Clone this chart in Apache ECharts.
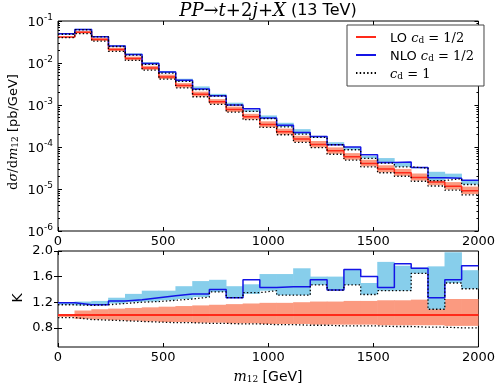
<!DOCTYPE html>
<html><head><meta charset="utf-8">
<script src="https://cdn.jsdelivr.net/npm/echarts@6/dist/echarts.min.js"></script>
<style>html,body{margin:0;padding:0;background:#fff}#c{width:498px;height:384px}</style>
</head><body><div id="c"></div>
<script>
// ---- data ----
const binEdges = [0,80,160,240,320,400,480,560,640,720,800,880,960,1040,1120,1200,1280,1360,1440,1520,1600,1680,1760,1840,1920,2000];

// top panel: dsigma/dm12 [pb/GeV]
const loCentral = [0.0417,0.0538,0.0361,0.0209,0.01277,0.00764,0.00467,0.00291,0.00181,0.00119,0.000783,0.000522,0.000344,0.000230,0.000154,0.000115,0.0000810,0.0000585,0.0000407,0.0000298,0.0000245,0.0000189,0.0000146,0.0000117,0.0000091];
const loUpper   = [0.0421,0.0576,0.0393,0.0230,0.01417,0.00856,0.00528,0.00332,0.00208,0.00138,0.000916,0.000616,0.000409,0.000274,0.000185,0.000139,0.0000980,0.0000714,0.0000497,0.0000367,0.0000301,0.0000234,0.0000181,0.0000146,0.0000114];
const loLower   = [0.0404,0.0506,0.0336,0.0192,0.01162,0.00688,0.00416,0.00259,0.00159,0.00105,0.000681,0.000454,0.000296,0.000198,0.000132,0.0000978,0.0000689,0.0000497,0.0000346,0.0000250,0.0000206,0.0000159,0.0000123,0.00000971,0.00000755];
const loCd1     = [0.0400,0.0500,0.0332,0.0190,0.01149,0.00680,0.00411,0.00256,0.00157,0.00104,0.000673,0.000449,0.000292,0.000196,0.000129,0.0000966,0.0000672,0.0000486,0.0000338,0.0000244,0.0000201,0.0000153,0.0000118,0.00000936,0.00000728];
const nloCentral= [0.0496,0.0624,0.0419,0.0255,0.01583,0.00970,0.00607,0.00387,0.00241,0.00167,0.000994,0.000809,0.000492,0.000331,0.000222,0.000178,0.000113,0.000100,0.0000651,0.0000426,0.0000441,0.0000327,0.0000185,0.0000181,0.0000161];
const nloUpper  = [0.0500,0.0651,0.0440,0.0265,0.01698,0.01054,0.00644,0.00422,0.00277,0.00184,0.001135,0.000773,0.000564,0.000377,0.000266,0.000184,0.000130,0.000100,0.0000611,0.0000545,0.0000434,0.0000329,0.0000257,0.0000232,0.0000155];
const nloLower  = [0.0484,0.0619,0.0419,0.0247,0.01532,0.00924,0.00574,0.00364,0.00232,0.00162,0.000994,0.000694,0.000475,0.000301,0.000202,0.000169,0.000113,0.0000860,0.0000537,0.0000411,0.0000338,0.0000312,0.0000159,0.0000176,0.0000128];
const nloCd1    = [0.0484,0.0619,0.0419,0.0247,0.01532,0.00924,0.00574,0.00364,0.00232,0.00162,0.000994,0.000705,0.000475,0.000301,0.000202,0.000169,0.000113,0.0000860,0.0000537,0.0000411,0.0000338,0.0000312,0.0000159,0.0000176,0.0000128];

// bottom panel: K (ratio to LO, c_d = 1/2)
const kLo       = [1,1,1,1,1,1,1,1,1,1,1,1,1,1,1,1,1,1,1,1,1,1,1,1,1];
const kLoUpper  = [1.01,1.07,1.09,1.10,1.11,1.12,1.13,1.14,1.15,1.16,1.17,1.18,1.19,1.19,1.20,1.21,1.21,1.22,1.22,1.23,1.23,1.24,1.24,1.25,1.25];
const kLoLower  = [0.97,0.94,0.93,0.92,0.91,0.90,0.89,0.89,0.88,0.88,0.87,0.87,0.86,0.86,0.86,0.85,0.85,0.85,0.85,0.84,0.84,0.84,0.84,0.83,0.83];
const kLoCd1    = [0.96,0.93,0.92,0.91,0.90,0.89,0.88,0.88,0.87,0.87,0.86,0.86,0.85,0.85,0.84,0.84,0.83,0.83,0.83,0.82,0.82,0.81,0.81,0.80,0.80];
const kNlo      = [1.19,1.16,1.16,1.22,1.24,1.27,1.30,1.33,1.33,1.40,1.27,1.55,1.43,1.44,1.44,1.55,1.39,1.71,1.60,1.43,1.80,1.73,1.27,1.55,1.77];
const kNloUpper = [1.20,1.21,1.22,1.27,1.33,1.38,1.38,1.45,1.53,1.55,1.45,1.48,1.64,1.64,1.73,1.60,1.60,1.71,1.50,1.83,1.77,1.74,1.76,1.98,1.70];
const kNloLower = [1.16,1.15,1.16,1.18,1.20,1.21,1.23,1.25,1.28,1.36,1.27,1.33,1.38,1.31,1.31,1.47,1.39,1.47,1.32,1.38,1.38,1.65,1.09,1.50,1.41];
const kNloCd1   = [1.16,1.15,1.16,1.18,1.20,1.21,1.23,1.25,1.28,1.36,1.27,1.35,1.38,1.31,1.31,1.47,1.39,1.47,1.32,1.38,1.38,1.65,1.09,1.50,1.41];

// ticks
const xTicks = [0,500,1000,1500,2000];
const logMajor = [1e-6,1e-5,1e-4,1e-3,1e-2,1e-1];
const logMinorMultipliers = [2,3,4,5,6,7,8,9];
const kTicks = [0.8,1.2,1.6,2.0];

// ---- helpers ----
const logMinor = [];
logMajor.slice(0,-1).forEach(d => logMinorMultipliers.forEach(m => logMinor.push(+(m*d).toPrecision(3))));

function stepData(vals){
  const d = vals.map((v,i)=>[binEdges[i], v]);
  d.push([binEdges[vals.length], vals[vals.length-1]]);
  return d;
}
function bandData(lo, hi){ return lo.map((v,i)=>[binEdges[i], binEdges[i+1], v, hi[i]]); }
function bandRender(color){
  return function(params, api){
    const p0 = api.coord([api.value(0), api.value(3)]);
    const p1 = api.coord([api.value(1), api.value(2)]);
    const cs = params.coordSys;
    const r = echarts.graphic.clipRectByRect(
      {x:p0[0]-0.3, y:p0[1], width:p1[0]-p0[0]+0.6, height:p1[1]-p0[1]},
      {x:cs.x, y:cs.y, width:cs.width, height:cs.height});
    return r && {type:'rect', shape:r, style:{fill:color}};
  };
}

const RED = '#ff2a1a', BLUE = '#1414e6', SALMON = '#fb9a80', SKY = '#87ceeb';
const MATH = 'DejaVu Serif', SANS = 'DejaVu Sans';
const DOTS = 'path://M0,0h1.4v1h-1.4z M3.6,0h1.4v1h-1.4z M7.2,0h1.4v1h-1.4z M10.8,0h1.4v1h-1.4z M14.4,0h1.4v1h-1.4z M18,0h1.4v1h-1.4z';

function xAx(grid, pos, showLabel){
  return {type:'value', gridIndex:grid, position:pos, min:0, max:2000, interval:500,
    axisLine:{show:false},
    axisTick:{show:true, inside:true, length:4, lineStyle:{color:'#000'}},
    axisLabel:{show:showLabel, color:'#000', fontSize:13, fontFamily:SANS, margin:4, customValues:xTicks,
      formatter: v => String(v)},
    splitLine:{show:false}};
}
function yLog(pos, major, showLabel){
  return {type:'log', logBase:10, gridIndex:0, position:pos, min:1e-6, max:1e-1,
    axisLine:{show:false},
    axisTick:{show:true, inside:true, length: major?4:2, customValues: major?logMajor:logMinor, lineStyle:{color:'#000'}},
    axisLabel:{show:showLabel, customValues:logMajor, margin:5,
      formatter: v => '{b|10}{s|' + Math.round(Math.log10(v)) + '}',
      rich:{ b:{fontSize:13, fontFamily:SANS, color:'#000', lineHeight:16, verticalAlign:'bottom'},
             s:{fontSize:9, fontFamily:SANS, color:'#000', lineHeight:10, verticalAlign:'top'} }},
    splitLine:{show:false}};
}
function yK(pos, showLabel){
  return {type:'value', gridIndex:1, position:pos, min:0.5, max:2.0,
    axisLine:{show:false},
    axisTick:{show:true, inside:true, length:4, customValues:kTicks, lineStyle:{color:'#000'}},
    axisLabel:{show:showLabel, customValues:kTicks, color:'#000', fontSize:13, fontFamily:SANS, margin:5,
      formatter: v => v.toFixed(1)},
    splitLine:{show:false}};
}

function stepLine(name, vals, xi, yi, color, width, dotted, z){
  return {type:'line', name:name, xAxisIndex:xi, yAxisIndex:yi, step:'end', data:stepData(vals),
    symbol:'none', showSymbol:false, silent:true, animation:false, z:z,
    lineStyle:{color:color, width:width, type: dotted ? [1.4,2.2] : 'solid'},
    itemStyle:{color:color}};
}
function band(vLo, vHi, xi, yi, color, z){
  return {type:'custom', xAxisIndex:xi, yAxisIndex:yi, data:bandData(vLo, vHi),
    renderItem:bandRender(color), encode:{x:[0,1], y:[2,3]}, silent:true, animation:false, z:z};
}

const option = {
  animation:false,
  backgroundColor:'#fff',
  grid:[
    {left:58, top:21, width:421, height:210, show:true, borderColor:'#000', borderWidth:1, backgroundColor:'rgba(0,0,0,0)'},
    {left:58, top:251, width:421, height:96, show:true, borderColor:'#000', borderWidth:1, backgroundColor:'rgba(0,0,0,0)'}
  ],
  xAxis:[ xAx(0,'bottom',true), xAx(0,'top',false), xAx(1,'bottom',true), xAx(1,'top',false) ],
  yAxis:[ yLog('left',true,true), yLog('left',false,false), yLog('right',true,false), yLog('right',false,false),
          yK('left',true), yK('right',false) ],
  legend:{
    left:347, top:25, orient:'vertical', itemWidth:20, itemHeight:2, itemGap:5, symbolKeepAspect:false,
    padding:[7,10,5,9], borderColor:'#444', borderWidth:1, backgroundColor:'#fff',
    data:[{name:'LO', icon:'rect'},{name:'NLO', icon:'rect'},{name:'cd1', icon:DOTS}],
    formatter: n => n==='LO' ? '{r|LO }{i|c}{sub|d}{m| = 1/2}' : n==='NLO' ? '{r|NLO }{i|c}{sub|d}{m| = 1/2}' : '{i|c}{sub|d}{m| = 1}',
    textStyle:{padding:[0,0,0,9], rich:{
      r:{fontSize:13, fontFamily:SANS, color:'#000', lineHeight:16, verticalAlign:'bottom'},
      i:{fontSize:13, fontFamily:MATH, fontStyle:'italic', color:'#000', lineHeight:16, verticalAlign:'bottom'},
      sub:{fontSize:9, fontFamily:MATH, color:'#000', lineHeight:13, verticalAlign:'bottom'},
      m:{fontSize:13, fontFamily:MATH, color:'#000', lineHeight:16, verticalAlign:'bottom'}
    }}
  },
  graphic:[
    {type:'text', x:268, y:11, silent:true, style:{
      text:'{i|PP}{n|→}{i|t\u0305}{n|+2}{i|j}{n|+}{i|X}{s| (13 TeV)}', align:'center', verticalAlign:'middle',
      rich:{ i:{fontSize:18, fontFamily:MATH, fontStyle:'italic', fill:'#000'},
             n:{fontSize:18, fontFamily:MATH, fill:'#000'},
             s:{fontSize:16, fontFamily:SANS, fill:'#000'} }}},
    {type:'text', x:12, y:132, rotation:Math.PI/2, silent:true, style:{
      text:'{m|d}{i|σ}{m|/d}{i|m}{sub|12}{s| [pb/GeV]}', align:'center', verticalAlign:'middle',
      rich:{ i:{fontSize:13, fontFamily:MATH, fontStyle:'italic', fill:'#000', lineHeight:16, verticalAlign:'bottom'},
             m:{fontSize:13, fontFamily:MATH, fill:'#000', lineHeight:16, verticalAlign:'bottom'},
             sub:{fontSize:9, fontFamily:MATH, fill:'#000', lineHeight:12, verticalAlign:'bottom'},
             s:{fontSize:13, fontFamily:SANS, fill:'#000', lineHeight:16, verticalAlign:'bottom'} }}},
    {type:'text', x:18, y:298, rotation:Math.PI/2, silent:true, style:{
      text:'K', align:'center', verticalAlign:'middle', fontSize:14, fontFamily:SANS, fill:'#000'}},
    {type:'text', x:268, y:376, silent:true, style:{
      text:'{i|m}{sub|12}{s| [GeV]}', align:'center', verticalAlign:'middle',
      rich:{ i:{fontSize:14, fontFamily:MATH, fontStyle:'italic', fill:'#000', lineHeight:16, verticalAlign:'bottom'},
             sub:{fontSize:9, fontFamily:MATH, fill:'#000', lineHeight:12, verticalAlign:'bottom'},
             s:{fontSize:14, fontFamily:SANS, fill:'#000', lineHeight:16, verticalAlign:'bottom'} }}}
  ],
  series:[
    band(loLower, loUpper, 0, 0, SALMON, 1),
    band(nloLower, nloUpper, 0, 0, SKY, 2),
    stepLine('LO', loCentral, 0, 0, RED, 1.5, false, 4),
    stepLine('NLO', nloCentral, 0, 0, BLUE, 1.5, false, 5),
    stepLine('cd1', loCd1, 0, 0, '#000', 1.3, true, 6),
    stepLine('cd1', nloCd1, 0, 0, '#000', 1.3, true, 6),

    band(kLoLower, kLoUpper, 2, 4, SALMON, 1),
    band(kNloLower, kNloUpper, 2, 4, SKY, 2),
    stepLine('LO', kLo, 2, 4, RED, 2, false, 4),
    stepLine('NLO', kNlo, 2, 4, BLUE, 1.5, false, 5),
    stepLine('cd1', kLoCd1, 2, 4, '#000', 1.3, true, 6),
    stepLine('cd1', kNloCd1, 2, 4, '#000', 1.3, true, 6)
  ]
};
const chart = echarts.init(document.getElementById('c'), null, {renderer:'canvas', width:498, height:384});
chart.setOption(option);
</script>
</body></html>
